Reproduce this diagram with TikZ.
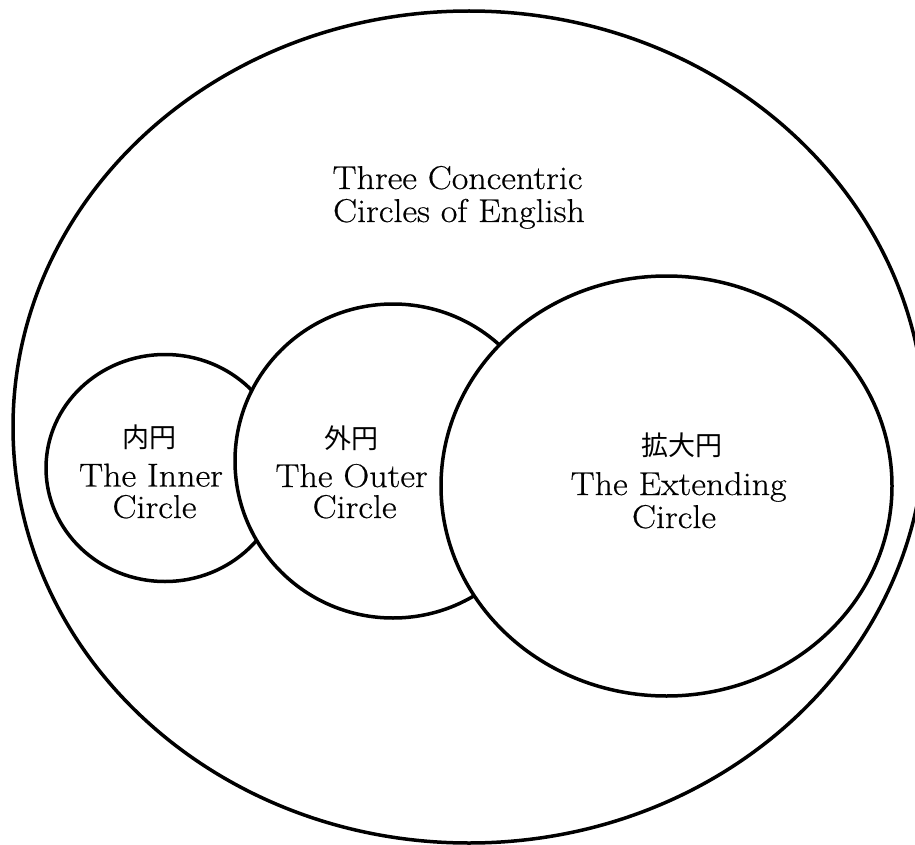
\documentclass[tikz,border=0pt]{standalone}
\usepackage{fontspec}
\setmainfont{Latin Modern Roman}[FakeStretch=1.09, FakeBold=0.5]
\newfontfamily\cjk{Noto Sans CJK JP}
\begin{document}
\begin{tikzpicture}[x=1pt,y=-1pt,
  ring/.style={draw=black, line width=3.5pt, fill=white},
  lab/.style={anchor=base, inner sep=0pt, font=\fontsize{33}{33}\selectfont},
  jlab/.style={anchor=center, inner sep=0pt, font=\cjk\fontsize{27}{27}\selectfont}]
\useasboundingbox (0,0) rectangle (915,845);
\clip (0,0) rectangle (915,845);
\fill[white] (0,0) rectangle (915,845);
% circles
\draw[ring] (469,427) ellipse [x radius=456pt, y radius=416pt];
\draw[ring] (165,468) ellipse [x radius=119pt, y radius=113.5pt];
\draw[ring] (393,461) ellipse [x radius=158pt, y radius=157pt];
\draw[ring] (666.5,486) ellipse [x radius=225.5pt, y radius=210pt];
% title
\node[lab] (title1) at (457.5,189) {Three Concentric};
\node[lab] (title2) at (459,222) {Circles of English};
% inner
\node[jlab] (innerj) at (149.5,437.5) {内円};
\node[lab] (inner1) at (151,486.5) {The Inner};
\node[lab] (inner2) at (154.5,518) {Circle};
% outer
\node[jlab] (outerj) at (351.5,438.5) {外円};
\node[lab] (outer1) at (351.6,487) {The Outer};
\node[lab] (outer2) at (354.6,518) {Circle};
% extending
\node[jlab] (extj) at (681.5,445.5) {拡大円};
\node[lab] (ext1) at (678.6,495) {The Extending};
\node[lab] (ext2) at (674,528) {Circle};
\end{tikzpicture}
\end{document}
